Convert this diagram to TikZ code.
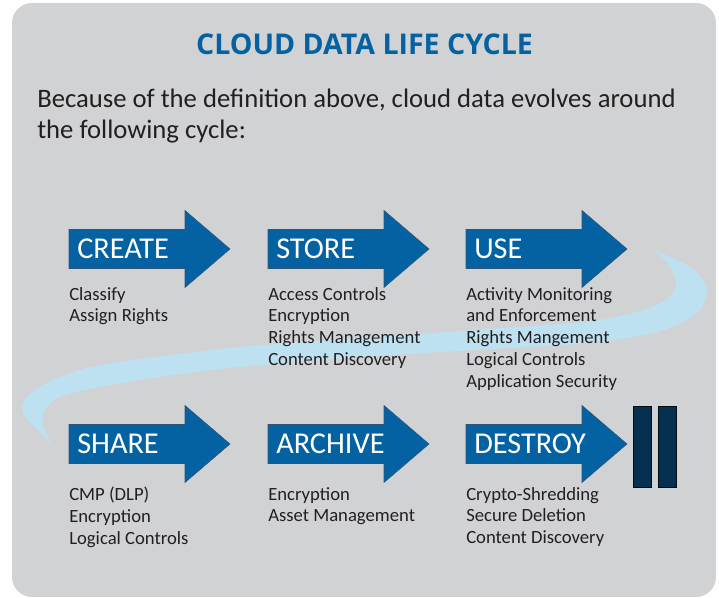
\documentclass[tikz,border=0pt]{standalone}
\usepackage{fontspec}
\setmainfont{Carlito}
\newfontfamily\titlefont{Open Sans}
\usepackage{tikz}
\usetikzlibrary{positioning}
\definecolor{lcgrey}{RGB}{209,210,212}
\definecolor{lcblue}{RGB}{4,98,162}
\definecolor{lcedge}{RGB}{52,84,118}
\definecolor{lcswoosh}{RGB}{190,225,241}
\definecolor{lcnavy}{RGB}{5,48,80}
\definecolor{lctext}{RGB}{35,31,32}

\begin{document}
\begin{tikzpicture}[x=0.75pt,y=0.75pt,yscale=-1,xscale=1,
  lcarrow/.style={draw=lcedge, line width=0.4pt, fill=lcblue},
  lcstage/.style={anchor=west, inner sep=0pt, text=white, font=\fontsize{22.7pt}{24pt}\selectfont},
  lcitems/.style={anchor=north west, inner sep=0pt, align=left, text=lctext, font=\fontsize{14pt}{16.3pt}\selectfont},
  lcbar/.style={draw=black!75!lcnavy, line width=0.6pt, fill=lcnavy}]
\useasboundingbox (0,0) rectangle (719,598);

%Shape: Rectangle [background]
\fill[lcgrey, rounded corners=15pt] (12,3) rectangle (716,597);

%Text Node [title]
\node[anchor=base, inner sep=0pt, text=lcblue, font=\titlefont\bfseries\fontsize{21.4pt}{24pt}\selectfont] (title) at (364.5,55) {CLOUD DATA LIFE CYCLE};
%Text Node [intro]
\node[anchor=north west, inner sep=0pt, align=left, text=lctext, font=\fontsize{20pt}{23.25pt}\selectfont] (intro) at (37,89) {Because of the definition above, cloud data evolves around\\the following cycle:};

%Shape: Swoosh
\fill[lcswoosh] plot[smooth, tension=0.6] coordinates {(651,249) (683,263) (701,277) (707,293) (697,313) (667,329) (633,337) (600,342) (560,345) (460,351) (360,357) (240,367) (160,377) (100,387) (60,397) (45,410) (43,423) (48,437) (55,448)}
  -- plot[smooth, tension=0.6] coordinates {(55,448) (40,432) (25,417) (23,403) (35,390) (60,377) (100,365) (170,355) (240,347) (360,338) (460,331) (560,324) (600,320) (625,315) (650,308) (668,298) (676,283) (667,262) (651,249)} -- cycle;

%Shape: Right Arrow [create]
\draw[lcarrow] (69,229.5) -- (185,229.5) -- (185,210.5) -- (230,249) -- (185,287.5) -- (185,268.5) -- (69,268.5) -- cycle;
%Shape: Right Arrow [store]
\draw[lcarrow] (268,229.5) -- (384,229.5) -- (384,210.5) -- (429,249) -- (384,287.5) -- (384,268.5) -- (268,268.5) -- cycle;
%Shape: Right Arrow [use]
\draw[lcarrow] (466,229.5) -- (582,229.5) -- (582,210.5) -- (627,249) -- (582,287.5) -- (582,268.5) -- (466,268.5) -- cycle;
%Shape: Right Arrow [share]
\draw[lcarrow] (69,424.5) -- (185,424.5) -- (185,405.5) -- (230,444) -- (185,482.5) -- (185,463.5) -- (69,463.5) -- cycle;
%Shape: Right Arrow [archive]
\draw[lcarrow] (268,424.5) -- (384,424.5) -- (384,405.5) -- (429,444) -- (384,482.5) -- (384,463.5) -- (268,463.5) -- cycle;
%Shape: Right Arrow [destroy]
\draw[lcarrow] (466,424.5) -- (582,424.5) -- (582,405.5) -- (627,444) -- (582,482.5) -- (582,463.5) -- (466,463.5) -- cycle;

%Shape: Rectangle [end bars]
\draw[lcbar] (633,406) rectangle (651,487);
\draw[lcbar] (658,406) rectangle (676,487);

%Text Node [stages]
\node[lcstage] (create) at (77,249) {CREATE};
\node[lcstage] (store) at (276,249) {STORE};
\node[lcstage] (use) at (474,249) {USE};
\node[lcstage] (share) at (77,444) {SHARE};
\node[lcstage] (archive) at (276,444) {ARCHIVE};
\node[lcstage] (destroy) at (474,444) {DESTROY};

%Text Node [controls]
\node[lcitems] (createitems) at (69,287) {Classify\\Assign Rights};
\node[lcitems] (storeitems) at (268,287) {Access Controls\\Encryption\\Rights Management\\Content Discovery};
\node[lcitems] (useitems) at (466,287) {Activity Monitoring\\and Enforcement\\Rights Mangement\\Logical Controls\\Application Security};
\node[lcitems] (shareitems) at (69,487) {CMP (DLP)\\Encryption\\Logical Controls};
\node[lcitems] (archiveitems) at (268,487) {Encryption\\Asset Management};
\node[lcitems] (destroyitems) at (466,487) {Crypto-Shredding\\Secure Deletion\\Content Discovery};

\end{tikzpicture}
\end{document}
